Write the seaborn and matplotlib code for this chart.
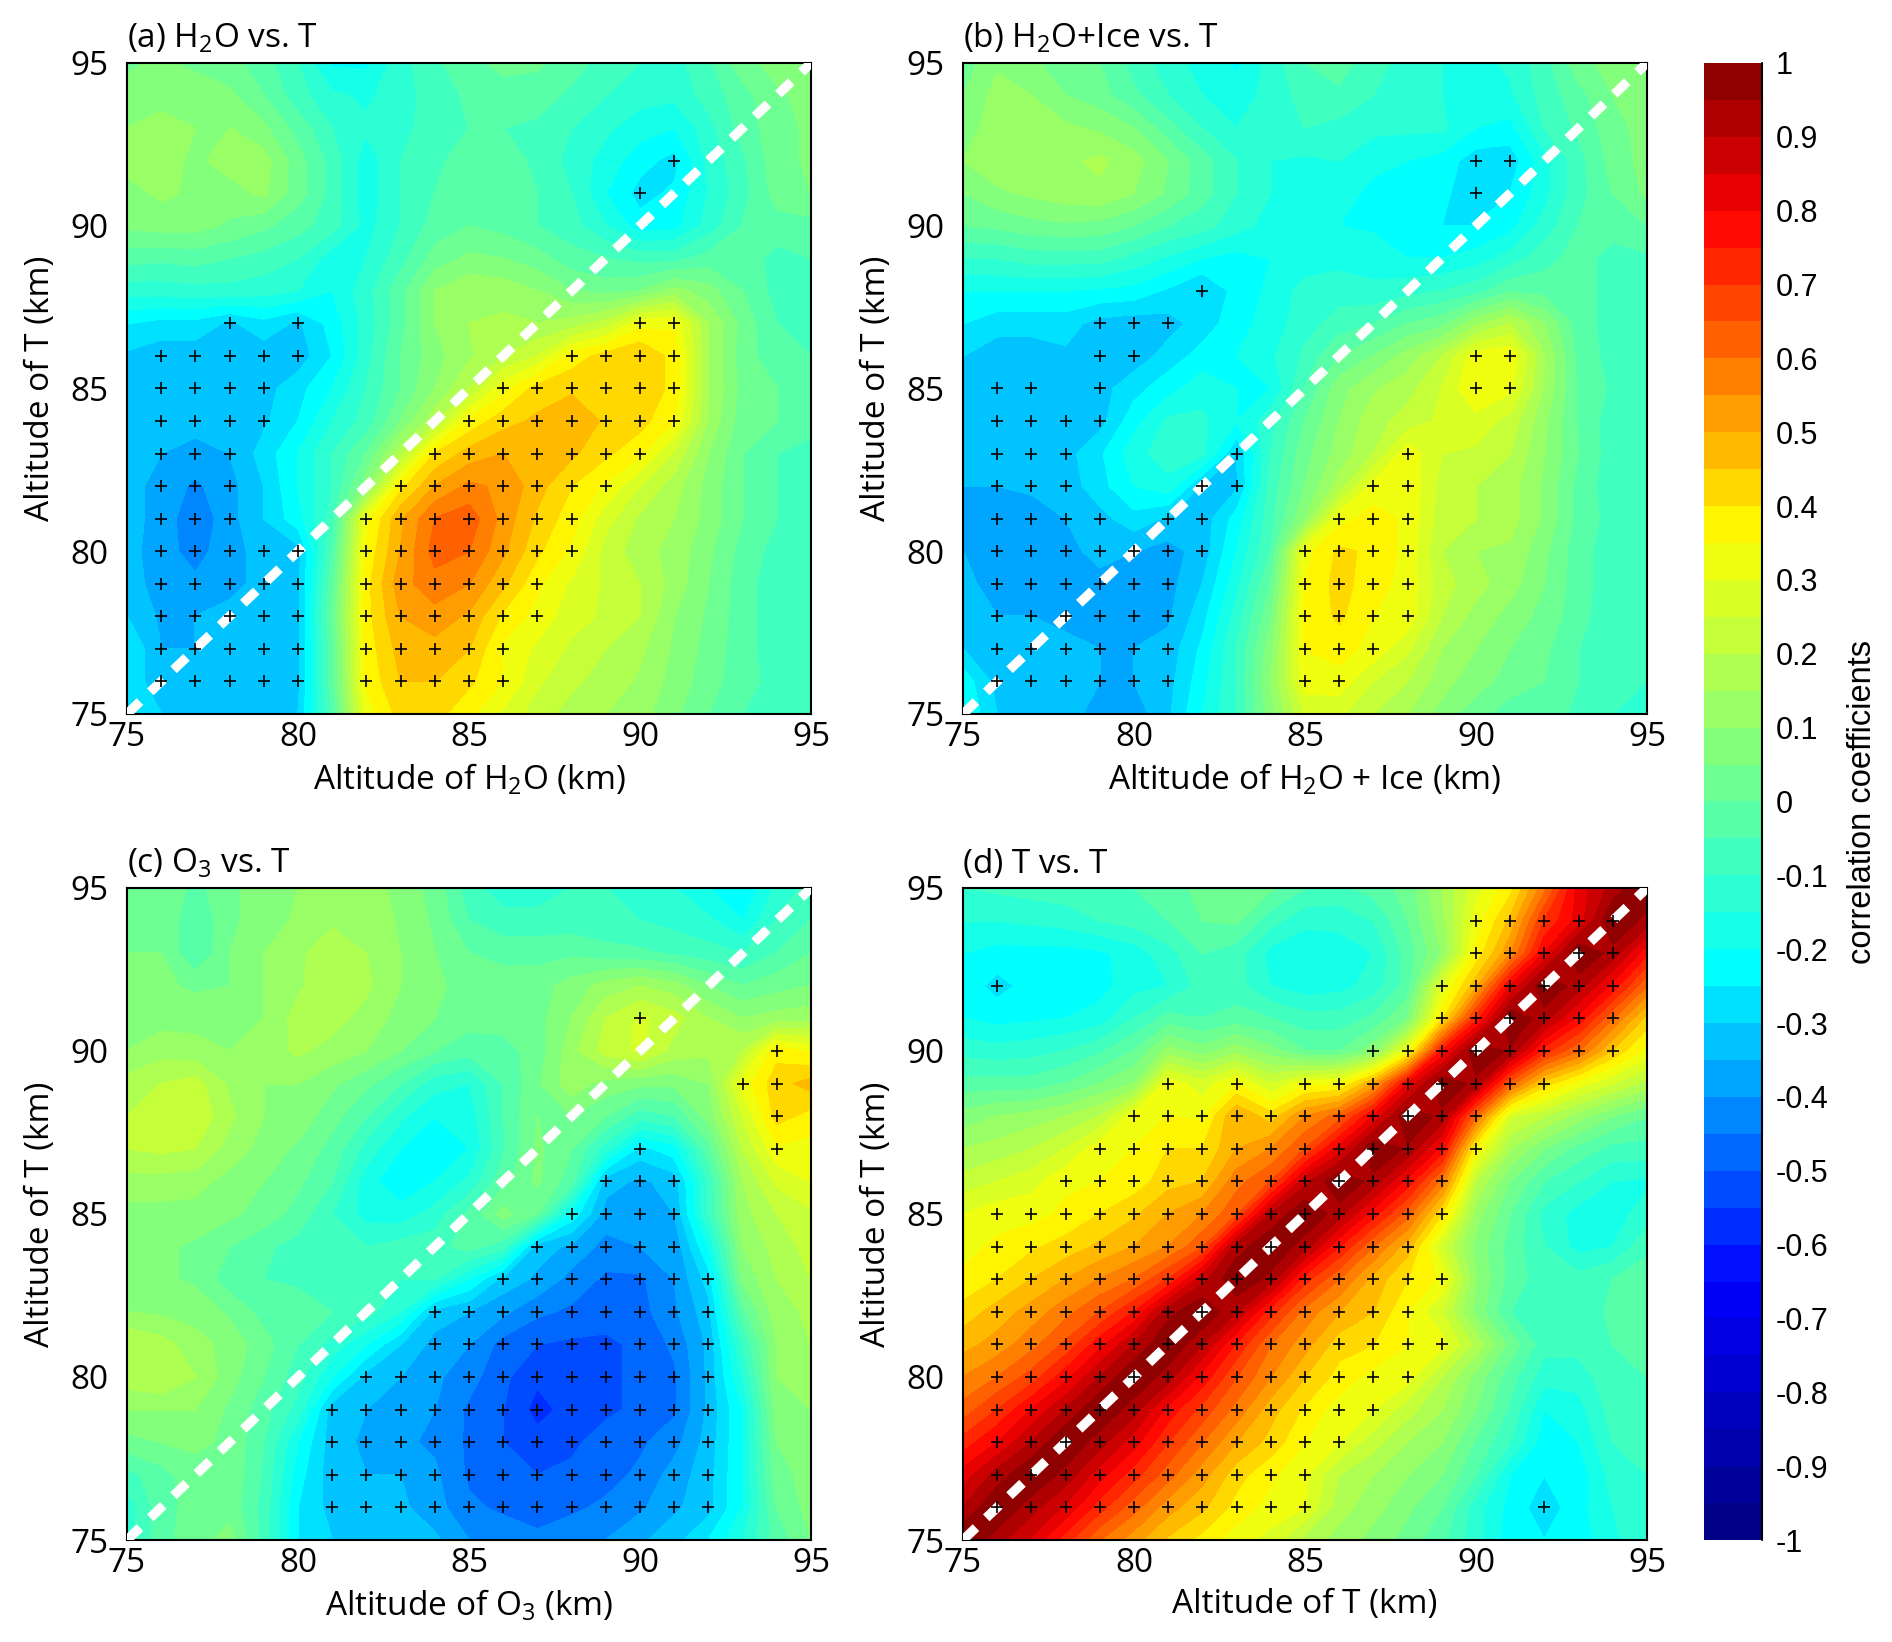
import numpy as np
import matplotlib
matplotlib.use("Agg")
import matplotlib.pyplot as plt
from matplotlib.colors import ListedColormap, LinearSegmentedColormap
import seaborn as sns

altitudes = [75,76,77,78,79,80,81,82,83,84,85,86,87,88,89,90,91,92,93,94,95]

# rows run from 95 km (top) down to 75 km (bottom)
h2o_vs_t = [
[.04,.06,.03,.02,-.03,-.1,-.21,-.21,-.12,-.06,-.02,.02,.01,-.03,-.07,-.1,-.12,-.06,.03,.07,.08],
[.07,.08,.1,.06,0,-.08,-.14,-.16,-.12,-.08,-.04,-.03,-.03,-.06,-.1,-.13,-.14,-.08,-.02,.04,.07],
[.1,.12,.1,.1,.06,-.02,-.1,-.14,-.12,-.07,-.05,-.05,-.06,-.1,-.14,-.18,-.2,-.12,-.03,.03,.06],
[.12,.12,.09,.12,.12,.02,-.07,-.18,-.1,-.06,-.03,-.03,-.06,-.12,-.17,-.23,-.27,-.14,-.06,.03,.06],
[.08,.11,.09,.08,.11,.02,-.07,-.18,-.1,-.05,-.03,-.03,-.05,-.1,-.2,-.27,-.24,-.15,-.07,.02,.05],
[.06,.07,.07,.04,.01,-.03,-.08,-.17,-.1,-.03,0,-.02,-.05,-.08,-.15,-.23,-.22,-.13,-.05,-.02,-.02],
[-.03,-.04,-.03,-.05,-.07,-.1,-.18,-.15,-.07,.02,.06,.05,.02,-.03,-.05,-.07,-.07,-.03,-.02,-.07,-.05],
[-.13,-.13,-.12,-.12,-.13,-.15,-.2,-.12,-.02,.1,.14,.13,.1,.05,.03,.05,.12,.07,0,-.07,-.08],
[-.25,-.27,-.27,-.31,-.27,-.31,-.23,-.13,-.02,.1,.15,.16,.15,.17,.22,.33,.34,.15,.03,-.05,-.05],
[-.31,-.33,-.33,-.33,-.33,-.33,-.25,-.12,0,.08,.14,.2,.25,.37,.42,.45,.38,.15,.02,-.03,-.05],
[-.31,-.33,-.33,-.33,-.32,-.27,-.2,-.1,0,.1,.2,.33,.42,.44,.45,.45,.38,.15,.03,0,-.03],
[-.31,-.33,-.33,-.32,-.31,-.25,-.15,-.08,.05,.18,.36,.43,.46,.49,.44,.42,.35,.14,.02,0,-.03],
[-.33,-.35,-.37,-.35,-.28,-.2,-.1,0,.18,.4,.47,.5,.5,.46,.41,.36,.24,.1,0,-.05,-.07],
[-.33,-.37,-.41,-.37,-.3,-.2,-.1,.08,.38,.5,.56,.54,.47,.4,.34,.25,.17,.08,0,-.05,-.06],
[-.33,-.37,-.44,-.37,-.3,-.22,-.08,.33,.49,.6,.63,.53,.44,.37,.27,.19,.15,.08,0,-.05,-.06],
[-.33,-.38,-.42,-.37,-.33,-.32,-.05,.36,.5,.62,.6,.51,.41,.34,.23,.17,.13,.06,-.02,-.07,-.07],
[-.33,-.37,-.39,-.36,-.34,-.32,-.02,.38,.53,.58,.55,.46,.36,.29,.24,.2,.13,.05,-.03,-.08,-.08],
[-.3,-.36,-.35,-.34,-.34,-.32,0,.38,.5,.53,.49,.39,.33,.27,.24,.2,.1,.04,-.03,-.08,-.08],
[-.25,-.35,-.35,-.33,-.33,-.32,-.02,.37,.47,.48,.45,.34,.29,.24,.2,.16,.09,.03,-.03,-.08,-.09],
[-.27,-.33,-.33,-.33,-.34,-.32,-.02,.36,.45,.45,.41,.35,.26,.21,.18,.14,.08,.02,-.03,-.07,-.09],
[-.27,-.3,-.3,-.33,-.35,-.3,-.05,.32,.42,.42,.36,.29,.22,.18,.15,.12,.06,0,-.05,-.08,-.09],
]

h2o_ice_vs_t = [
[.02,.09,.06,.02,0,-.07,-.13,-.17,-.21,-.13,-.05,-.03,-.08,-.12,-.15,-.17,-.14,-.07,.03,.07,.08],
[.05,.12,.1,.05,.02,-.04,-.1,-.15,-.18,-.13,-.08,-.06,-.1,-.13,-.15,-.17,-.16,-.08,-.02,.05,.08],
[.07,.13,.13,.11,.09,.05,-.03,-.1,-.15,-.12,-.1,-.12,-.14,-.14,-.14,-.2,-.22,-.1,-.04,.03,.07],
[.1,.13,.14,.14,.16,.12,.05,-.03,-.1,-.15,-.16,-.15,-.18,-.2,-.22,-.28,-.28,-.17,-.07,.02,.07],
[.05,.09,.11,.13,.14,.1,.04,-.03,-.1,-.15,-.17,-.17,-.22,-.22,-.24,-.28,-.25,-.17,-.07,0,.06],
[0,.01,.03,.04,.03,0,-.05,-.08,-.13,-.17,-.18,-.2,-.21,-.24,-.25,-.25,-.22,-.13,-.05,-.03,0],
[-.1,-.1,-.08,-.08,-.08,-.12,-.16,-.2,-.22,-.2,-.18,-.17,-.17,-.2,-.2,-.18,-.13,-.07,-.03,-.07,-.06],
[-.2,-.2,-.2,-.2,-.21,-.22,-.26,-.31,-.23,-.19,-.13,-.12,-.14,-.12,-.1,-.07,-.01,-.02,-.03,-.07,-.08],
[-.25,-.28,-.28,-.28,-.32,-.33,-.32,-.28,-.22,-.18,-.12,-.08,-.05,0,.03,.13,.2,.1,-.03,-.07,-.08],
[-.3,-.33,-.33,-.31,-.32,-.33,-.28,-.23,-.2,-.16,-.09,0,.05,.12,.2,.33,.34,.15,-.02,-.07,-.09],
[-.31,-.33,-.33,-.3,-.32,-.27,-.22,-.17,-.2,-.2,-.05,.08,.14,.18,.25,.35,.31,.14,-.01,-.06,-.08],
[-.31,-.33,-.33,-.32,-.32,-.22,-.14,-.14,-.2,-.12,0,.1,.18,.22,.26,.28,.23,.11,-.01,-.08,-.09],
[-.34,-.34,-.33,-.32,-.26,-.17,-.12,-.14,-.3,-.1,.03,.12,.2,.33,.25,.24,.2,.1,0,-.08,-.1],
[-.35,-.35,-.34,-.33,-.27,-.2,-.17,-.31,-.31,-.08,.05,.17,.32,.34,.23,.2,.17,.09,-.02,-.08,-.1],
[-.35,-.38,-.38,-.35,-.32,-.27,-.31,-.33,-.23,-.07,.1,.33,.37,.34,.22,.2,.17,.09,-.02,-.07,-.08],
[-.35,-.38,-.38,-.36,-.34,-.35,-.37,-.33,-.2,-.05,.33,.41,.39,.33,.2,.15,.14,.06,-.03,-.08,-.08],
[-.33,-.38,-.36,-.35,-.36,-.38,-.37,-.3,-.17,0,.35,.42,.37,.33,.22,.17,.12,.05,-.03,-.08,-.09],
[-.3,-.35,-.35,-.36,-.38,-.39,-.36,-.27,-.13,.04,.36,.41,.35,.33,.2,.13,.08,.03,-.03,-.09,-.1],
[-.3,-.34,-.34,-.34,-.35,-.35,-.33,-.24,-.1,.08,.35,.37,.33,.26,.15,.1,.05,.01,-.05,-.09,-.1],
[-.22,-.32,-.33,-.32,-.35,-.35,-.32,-.22,-.1,.1,.33,.33,.25,.2,.12,.07,.03,0,-.05,-.09,-.1],
[-.2,-.3,-.3,-.32,-.38,-.38,-.31,-.2,-.1,.08,.25,.26,.2,.15,.08,.02,-.03,-.03,-.06,-.1,-.1],
]

o3_vs_t = [
[.05,.05,-.02,.04,.07,.1,.14,.13,.08,.03,-.08,-.13,-.13,-.1,-.1,-.12,-.15,-.2,-.25,-.14,-.08],
[.05,.05,-.05,.04,.07,.11,.14,.14,.09,.04,-.05,-.08,-.08,-.08,-.09,-.1,-.12,-.14,-.2,-.1,-.05],
[.05,.05,-.05,.05,.1,.14,.18,.15,.1,.05,0,-.02,-.02,-.01,-.03,-.04,-.06,-.08,-.1,-.05,0],
[.06,.06,.04,.05,.1,.14,.19,.16,.1,.06,.03,.03,.03,.07,.12,.15,.12,.05,0,.03,.05],
[.08,.08,.08,.08,.1,.17,.17,.13,.08,.05,.02,.02,.03,.1,.2,.26,.22,.15,.1,.12,.13],
[.1,.13,.12,.1,.12,.16,.13,.1,.05,0,-.03,-.02,.02,.13,.22,.26,.18,.16,.2,.38,.34],
[.17,.2,.22,.14,.1,.1,.06,.01,-.05,-.13,-.15,-.05,.04,.13,.08,.06,.06,.1,.32,.43,.47],
[.2,.22,.24,.16,.1,.08,.02,-.05,-.14,-.2,-.18,-.05,.05,.05,0,-.08,-.05,.07,.25,.42,.38],
[.2,.21,.2,.13,.08,.04,-.02,-.12,-.2,-.22,-.2,-.06,.06,0,-.13,-.27,-.22,-.02,.2,.34,.33],
[.13,.13,.12,.08,.05,.01,-.05,-.18,-.24,-.2,-.14,-.02,.06,-.03,-.33,-.36,-.33,-.1,.15,.26,.3],
[.08,.08,.08,.06,.03,-.02,-.1,-.17,-.18,-.13,-.04,.07,0,-.22,-.37,-.38,-.35,-.1,.13,.2,.24],
[.07,.06,.04,0,-.04,-.07,-.08,-.1,-.08,-.07,-.03,-.08,-.33,-.36,-.42,-.4,-.39,-.2,.1,.17,.22],
[.08,.06,.04,-.03,-.05,-.07,-.07,-.05,-.1,-.1,-.2,-.32,-.36,-.42,-.46,-.46,-.4,-.28,.06,.15,.2],
[.1,.09,.08,.04,-.02,0,-.05,-.08,-.15,-.32,-.35,-.39,-.44,-.46,-.48,-.47,-.41,-.32,-.02,.13,.16],
[.2,.17,.12,.08,.02,-.05,-.12,-.2,-.3,-.37,-.4,-.47,-.5,-.51,-.51,-.49,-.44,-.34,-.1,.1,.15],
[.18,.2,.15,.07,0,-.08,-.2,-.32,-.35,-.39,-.43,-.49,-.54,-.53,-.51,-.49,-.46,-.34,-.15,.1,.13],
[.1,.1,.1,.04,-.03,-.12,-.33,-.35,-.38,-.4,-.46,-.5,-.57,-.53,-.51,-.49,-.46,-.34,-.2,.07,.1],
[.03,.05,.06,.04,-.05,-.2,-.33,-.36,-.39,-.41,-.46,-.5,-.53,-.51,-.48,-.46,-.42,-.33,-.2,.05,.08],
[-.07,-.02,.03,.04,-.06,-.23,-.33,-.35,-.35,-.39,-.46,-.49,-.5,-.49,-.47,-.44,-.38,-.32,-.2,.03,.07],
[-.13,-.02,.02,.03,-.07,-.25,-.32,-.34,-.34,-.38,-.44,-.46,-.47,-.46,-.44,-.41,-.36,-.32,-.2,0,.07],
[-.13,-.02,.03,.07,-.07,-.25,-.3,-.31,-.32,-.34,-.4,-.42,-.44,-.42,-.4,-.36,-.32,-.25,-.15,-.03,.05],
]

t_vs_t = [
[-.1,-.09,-.08,-.07,-.06,-.05,-.03,.02,.04,.01,-.05,-.06,-.03,.02,.15,.28,.38,.58,.82,.92,1.0],
[-.15,-.15,-.14,-.13,-.1,-.08,-.05,0,.01,-.08,-.14,-.14,-.1,0,.13,.32,.46,.7,.82,1.0,.93],
[-.2,-.22,-.22,-.22,-.21,-.18,-.12,-.05,-.08,-.17,-.18,-.17,-.15,-.03,.1,.36,.54,.8,1.0,.93,.76],
[-.22,-.27,-.23,-.23,-.22,-.17,-.15,-.08,-.08,-.15,-.18,-.17,-.13,-.03,.28,.48,.8,1.0,.92,.78,.6],
[-.2,-.22,-.21,-.2,-.18,-.1,-.03,-.05,-.03,-.05,-.08,-.08,-.04,.05,.38,.72,1.0,.92,.78,.6,.43],
[-.12,-.13,-.12,-.1,-.06,0,.12,.07,.13,.07,0,0,.08,.32,.75,1.0,.94,.72,.6,.44,.33],
[-.03,-.03,-.03,0,.05,.1,.33,.27,.35,.25,.33,.34,.5,.8,1.0,.93,.62,.42,.32,.25,.18],
[.07,.1,.12,.15,.2,.33,.35,.34,.5,.42,.55,.62,.8,1.0,.93,.6,.26,.2,.12,.05,0],
[.15,.17,.2,.25,.33,.35,.4,.4,.5,.55,.65,.82,1.0,.94,.78,.35,.15,.05,-.02,-.07,-.07],
[.22,.25,.28,.34,.35,.37,.43,.45,.58,.65,.88,1.0,.93,.78,.58,.2,.05,-.05,-.1,-.15,-.16],
[.3,.33,.33,.36,.4,.44,.5,.55,.64,.9,1.0,.92,.77,.62,.4,.12,0,-.12,-.17,-.17,-.13],
[.33,.36,.39,.42,.46,.5,.55,.64,.92,1.0,.92,.75,.6,.47,.25,.08,-.02,-.1,-.17,-.15,-.06],
[.36,.4,.45,.5,.55,.6,.7,.88,1.0,.93,.72,.6,.48,.4,.34,.1,-.02,-.08,-.08,-.05,-.03],
[.42,.47,.52,.58,.65,.75,.93,1.0,.9,.72,.58,.5,.45,.35,.25,.08,-.05,-.09,-.08,-.04,-.02],
[.48,.52,.58,.66,.78,.9,1.0,.9,.74,.6,.52,.42,.4,.35,.32,.18,.03,-.08,-.08,-.05,-.04],
[.55,.6,.67,.78,.9,1.0,.92,.78,.65,.55,.45,.38,.33,.32,.2,.08,-.03,-.13,-.13,-.06,-.05],
[.62,.7,.8,.9,1.0,.92,.78,.68,.58,.47,.39,.32,.3,.22,.15,.05,-.06,-.2,-.17,-.08,-.07],
[.72,.8,.9,1.0,.92,.82,.7,.6,.5,.43,.35,.3,.22,.15,.1,-.01,-.1,-.23,-.2,-.1,-.08],
[.82,.92,1.0,.93,.82,.72,.62,.52,.42,.36,.31,.2,.15,.1,.05,-.05,-.2,-.25,-.23,-.13,-.1],
[.9,1.0,.92,.84,.72,.62,.52,.46,.38,.33,.3,.17,.12,.06,0,-.13,-.22,-.28,-.22,-.15,-.1],
[1.0,.92,.84,.72,.6,.52,.44,.38,.32,.28,.18,.13,.08,.03,-.04,-.13,-.23,-.25,-.23,-.16,-.12],
]

# significant points: altitude of T -> altitudes on the x axis
sig_a = {92:[91],91:[90],87:[78,80,90,91],86:[76,77,78,79,80,88,89,90,91],
 85:[76,77,78,79,86,87,88,89,90,91],84:[76,77,78,79,85,86,87,88,89,90,91],
 83:[76,77,78,84,85,86,87,88,89,90],82:[76,77,78,83,84,85,86,87,88,89],
 81:[76,77,78,82,83,84,85,86,87,88],80:[76,77,78,79,80,82,83,84,85,86,87,88],
 79:[76,77,78,79,80,82,83,84,85,86,87],78:[76,77,78,79,80,82,83,84,85,86,87],
 77:[76,77,78,79,80,82,83,84,85,86],76:[76,77,78,79,80,82,83,84,85,86]}
sig_b = {92:[90,91],91:[90],88:[82],87:[79,80,81],86:[79,80,90,91],85:[76,77,79,90,91],
 84:[76,77,78,79],83:[76,77,78,83,88],82:[76,77,78,82,83,87,88],
 81:[76,77,78,79,81,82,86,87,88],80:[76,77,78,79,80,81,82,85,86,87,88],
 79:[76,77,78,79,80,81,85,86,87,88],78:[76,77,78,79,80,81,85,86,87,88],
 77:[76,77,78,79,80,81,85,86,87],76:[76,77,78,79,80,81,85,86]}
sig_c = {91:[90],90:[94],89:[93,94],88:[94],87:[90,94],86:[89,90,91],85:[88,89,90,91],
 84:[87,88,89,90,91],83:[86,87,88,89,90,91,92],82:[84,85,86,87,88,89,90,91,92],
 81:[84,85,86,87,88,89,90,91,92],80:[82,83,84,85,86,87,88,89,90,91,92],
 79:[81,82,83,84,85,86,87,88,89,90,91,92],78:[81,82,83,84,85,86,87,88,89,90,91,92],
 77:[81,82,83,84,85,86,87,88,89,90,91,92],76:[81,82,83,84,85,86,87,88,89,90,91,92]}
sig_d = {94:[90,91,92,93,94],93:[90,91,92,93,94],92:[76,89,90,91,92,93,94],
 91:[89,90,91,92,93,94],90:[87,88,89,90,91,92,93,94],89:[81,83,85,86,87,88,89,90,91,92],
 88:[80,81,82,83,84,85,86,87,88,89,90],87:[79,80,81,82,83,84,85,86,87,88,89,90],
 86:[78,79,80,81,82,83,84,85,86,87,88,89],
 85:[76,77,78,79,80,81,82,83,84,85,86,87,88,89],84:[76,77,78,79,80,81,82,83,84,85,86,87,88],
 83:[76,77,78,79,80,81,82,83,84,85,86,87,88,89],82:[76,77,78,79,80,81,82,83,84,85,86,87,88],
 81:[76,77,78,79,80,81,82,83,84,85,86,87,88,89],80:[76,77,78,79,80,81,82,83,84,85,86,87,88],
 79:[76,77,78,79,80,81,82,83,84,85,86,87],78:[76,77,78,79,80,81,82,83,84,85,86],
 77:[76,77,78,79,80,81,82,83,84,85],76:[76,77,78,79,80,81,82,83,84,85,92]}

titles = ["(a) H$_2$O vs. T", "(b) H$_2$O+Ice vs. T", "(c) O$_3$ vs. T", "(d) T vs. T"]
xlabels = ["Altitude of H$_2$O (km)", "Altitude of H$_2$O + Ice (km)",
           "Altitude of O$_3$ (km)", "Altitude of T (km)"]
ylabel = "Altitude of T (km)"
major_ticks = [75, 80, 85, 90, 95]
cbar_ticks = [-1,-.9,-.8,-.7,-.6,-.5,-.4,-.3,-.2,-.1,0,.1,.2,.3,.4,.5,.6,.7,.8,.9,1]
cbar_labels = ["-1","-0.9","-0.8","-0.7","-0.6","-0.5","-0.4","-0.3","-0.2","-0.1","0",
               "0.1","0.2","0.3","0.4","0.5","0.6","0.7","0.8","0.9","1"]
cbar_label = "correlation coefficients"

sns.set_theme(style="ticks")
plt.rcParams["font.family"] = ["Open Sans", "DejaVu Sans"]
plt.rcParams["mathtext.fontset"] = "custom"
plt.rcParams["mathtext.rm"] = "Open Sans"
plt.rcParams["mathtext.default"] = "regular"

W, H = 1892, 1642
fig = plt.figure(figsize=(W / 100, H / 100), dpi=100, facecolor="white")

def box(l, t, r, b):
    return [l / W, 1 - b / H, (r - l) / W, (b - t) / H]

boxes = [box(127, 63, 811, 714), box(963, 63, 1647, 714),
         box(127, 888, 811, 1540), box(963, 888, 1647, 1540)]
grids = [h2o_vs_t, h2o_ice_vs_t, o3_vs_t, t_vs_t]
sigs = [sig_a, sig_b, sig_c, sig_d]

levels = np.linspace(-1, 1, 41)
# colour ramp of the reference: value on the -1..1 scale -> colour
ramp_values = [-1.0, -0.65, -0.225, 0.36, 0.79, 1.0]
ramp_colors = ["#000080", "#0000ff", "#00ffff", "#ffff00", "#ff0000", "#810000"]
ramp = LinearSegmentedColormap.from_list(
    "corr", [((v + 1) / 2, c) for v, c in zip(ramp_values, ramp_colors)], N=1024)
cmap = ListedColormap(sns.color_palette([ramp((l + 0.025 + 1) / 2) for l in levels[:-1]]))

cf = None
for pos, grid, sig, title, xl in zip(boxes, grids, sigs, titles, xlabels):
    ax = fig.add_axes(pos)
    z = np.array(grid, dtype=float)[::-1]
    cf = ax.contourf(altitudes, altitudes, z, levels=levels, cmap=cmap, vmin=-1, vmax=1)
    cf.set_edgecolor("face")
    cf.set_linewidth(0.6)
    px = [x for y, xs in sig.items() for x in xs]
    py = [y for y, xs in sig.items() for x in xs]
    sns.lineplot(x=[75, 95], y=[75, 95], color="white", linewidth=6.8, ax=ax, zorder=4,
                 errorbar=None)
    ax.lines[-1].set_dashes((1.9, 1.5))
    ax.lines[-1].set_dash_capstyle("butt")
    sns.scatterplot(x=px, y=py, marker="+", color="black", s=65, linewidth=1.2,
                    ax=ax, zorder=5, legend=False)
    ax.set_xlim(75, 95)
    ax.set_ylim(75, 95)
    ax.set_xticks(major_ticks)
    ax.set_yticks(major_ticks)
    ax.set_xticks(altitudes, minor=True)
    ax.set_yticks(altitudes, minor=True)
    ax.tick_params(which="major", direction="in", top=True, right=True, length=11,
                   width=1.4, labelsize=24, color="black", labelcolor="black")
    ax.tick_params(axis="x", which="major", pad=5)
    ax.tick_params(axis="y", which="major", pad=13)
    ax.tick_params(which="minor", direction="in", top=True, right=True, length=6,
                   width=1.2, color="black")
    for s in ax.spines.values():
        s.set_linewidth(1.5)
        s.set_color("black")
    ax.set_xlabel(xl, fontsize=24, labelpad=6, color="black")
    ax.set_ylabel(ylabel, fontsize=24, labelpad=10, color="black")
    ax.set_title(title, fontsize=24, loc="left", pad=11, color="black")

cax = fig.add_axes(box(1704, 63, 1762, 1540))
cb = fig.colorbar(cf, cax=cax, ticks=cbar_ticks)
cb.ax.set_yticklabels(cbar_labels, family="Liberation Sans")
cb.ax.tick_params(length=0, labelsize=22, pad=10, labelcolor="black")
cb.outline.set_visible(False)
cb.set_label(cbar_label, fontsize=23.5, labelpad=13, color="black", family="Liberation Sans")
cb.ax.axvline(1, color="black", lw=1.5, clip_on=False)

fig.savefig("out.png", dpi=100)
